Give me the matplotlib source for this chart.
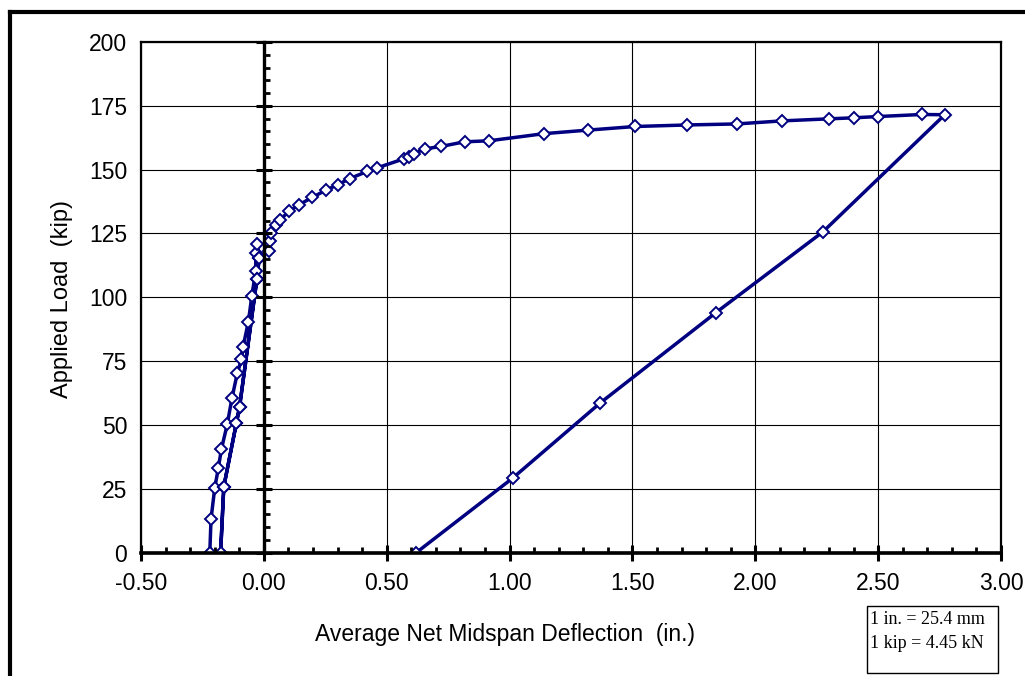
import numpy as np
import matplotlib
matplotlib.use('Agg')
import matplotlib.pyplot as plt
from matplotlib.lines import Line2D
from matplotlib.patches import Rectangle
from matplotlib.ticker import MultipleLocator

plt.rcParams['font.family'] = ['Liberation Sans', 'DejaVu Sans']

# load cycle to ~120 kip, unload, then reload to failure and final unload
preload_x = [-0.220, -0.215, -0.200, -0.185, -0.173, -0.149, -0.130, -0.108, -0.091,
             -0.085, -0.063, -0.049, -0.033, -0.033, -0.026]
preload_y = [0, 13.1, 25.2, 33.2, 40.4, 50.2, 60.4, 70.3, 75.7,
             80.4, 90.4, 100.5, 110.4, 117.2, 120.8]

unload1_x = [-0.019, -0.028, -0.099, -0.112, -0.163, -0.176]
unload1_y = [115.5, 107.3, 57.0, 50.6, 25.8, 0]

reload_x = [-0.163, -0.112, -0.099, -0.028, -0.019, 0.020, 0.024, 0.028, 0.048, 0.065,
            0.104, 0.142, 0.197, 0.251, 0.301, 0.350, 0.420, 0.461, 0.572, 0.592,
            0.613, 0.654, 0.722, 0.817, 0.917, 1.141, 1.321, 1.512, 1.724, 1.924,
            2.110, 2.300, 2.400, 2.500, 2.678, 2.771]
reload_y = [25.8, 50.6, 57.0, 107.3, 115.5, 118.3, 122.2, 125.1, 128.3, 130.3,
            133.8, 136.2, 139.1, 141.9, 144.1, 146.5, 149.3, 150.7, 154.3, 155.0,
            156.3, 158.1, 159.1, 160.9, 161.3, 164.1, 165.5, 166.9, 167.5, 167.9,
            169.1, 169.9, 170.3, 170.8, 171.6, 171.5]

unload2_x = [2.275, 1.840, 1.369, 1.012, 0.621]
unload2_y = [125.6, 94.0, 58.6, 29.1, 0]

x = preload_x + unload1_x + reload_x + unload2_x
y = preload_y + unload1_y + reload_y + unload2_y

xticks = [-0.5, 0.0, 0.5, 1.0, 1.5, 2.0, 2.5, 3.0]
yticks = [0, 25, 50, 75, 100, 125, 150, 175, 200]

W, H = 1025, 676
fig = plt.figure(figsize=(W / 100, H / 100), dpi=100)
rect = [141 / W, 1 - 552.5 / H, 860 / W, 510.5 / H]

# main axes: frame, grid, labels
ax = fig.add_axes(rect)
ax.set_xlim(-0.5, 3.0)
ax.set_ylim(0, 200)
ax.set_xticks(xticks)
ax.set_yticks(yticks)
ax.set_xticklabels(['%.2f' % v for v in xticks])
ax.set_yticklabels([str(v) for v in yticks])
ax.tick_params(length=0, labelsize=16.5)
ax.tick_params(axis='y', pad=10)
ax.tick_params(axis='x', pad=14)
ax.grid(True, color='black', linewidth=0.8)
for s in ax.spines.values():
    s.set_linewidth(1.6)

ax.plot(x, y, '-', color='#000080', linewidth=2.5, marker='D', markersize=5.8,
        markerfacecolor='white', markeredgecolor='#000080', markeredgewidth=1.4, zorder=5)

# overlay axes for the thick zero axes with excel-style ticks
ax2 = fig.add_axes(rect, frameon=True, facecolor='none')
ax2.set_xlim(-0.5, 3.0)
ax2.set_ylim(0, 200)
ax2.spines['right'].set_visible(False)
ax2.spines['top'].set_visible(False)
ax2.spines['left'].set_position(('data', 0))
ax2.spines['left'].set_linewidth(2.4)
ax2.spines['bottom'].set_linewidth(2.6)
ax2.xaxis.set_major_locator(MultipleLocator(0.5))
ax2.xaxis.set_minor_locator(MultipleLocator(0.1))
ax2.yaxis.set_major_locator(MultipleLocator(25))
ax2.yaxis.set_minor_locator(MultipleLocator(5))
ax2.tick_params(which='major', direction='inout', length=11, width=2.2,
                labelbottom=False, labelleft=False)
ax2.tick_params(which='minor', direction='in', length=4.5, width=2.0)
ax2.set_zorder(1)

fig.text(62 / W, 1 - 299 / H, 'Applied Load  (kip)', rotation=90, fontsize=17,
         ha='center', va='center')
fig.text(505 / W, 1 - 634 / H, 'Average Net Midspan Deflection  (in.)', fontsize=16.5,
         ha='center', va='center')

# unit conversion box
fig.patches.append(Rectangle((867 / W, 1 - 673 / H), 131 / W, 67 / H,
                             transform=fig.transFigure, fill=False,
                             edgecolor='black', linewidth=1.0))
fig.text(870 / W, 1 - 619 / H, '1 in. = 25.4 mm', family='Liberation Serif',
         fontsize=13, va='center')
fig.text(870 / W, 1 - 643 / H, '1 kip = 4.45 kN', family='Liberation Serif',
         fontsize=13, va='center')

# outer border (runs off the right and bottom of the picture)
fig.lines.append(Line2D([10 / W, 10 / W], [1 - 11.5 / H, -0.1], transform=fig.transFigure,
                        color='black', linewidth=3))
fig.lines.append(Line2D([10 / W, 1.1], [1 - 11.5 / H, 1 - 11.5 / H], transform=fig.transFigure,
                        color='black', linewidth=3))

fig.savefig('out.png', dpi=100)
